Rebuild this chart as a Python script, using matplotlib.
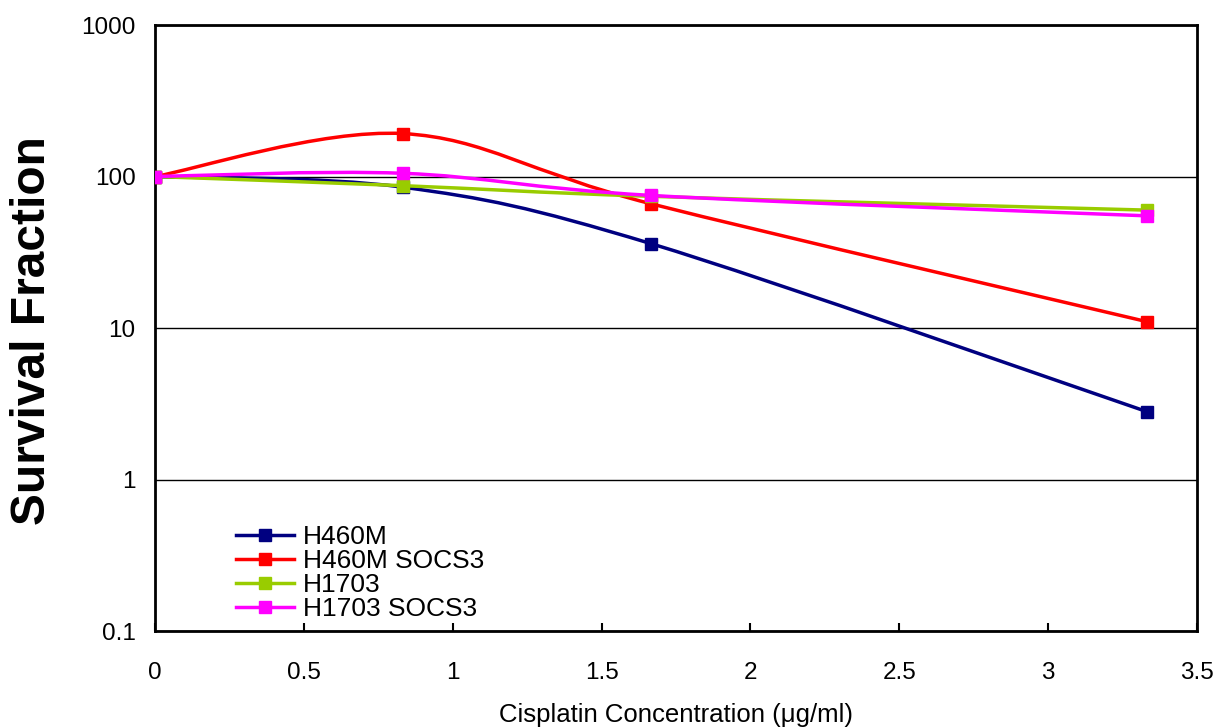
import numpy as np
import matplotlib.pyplot as plt
from matplotlib.path import Path
from matplotlib.patches import PathPatch
from matplotlib.lines import Line2D

plt.rcParams['font.family'] = ['Liberation Sans', 'DejaVu Sans']

# данные
conc = [0, 0.833, 1.667, 3.333]
h460m = [100, 85, 36, 2.8]
h460m_socs3 = [100, 192, 66, 11]
h1703 = [100, 87, 74, 60]
h1703_socs3 = [100, 105, 75, 55]

labels = ['H460M', 'H460M SOCS3', 'H1703', 'H1703 SOCS3']
colors = ['#000080', '#FF0000', '#99CC00', '#FF00FF']
series = [h460m, h460m_socs3, h1703, h1703_socs3]


# сглаженная линия как в Excel (Безье по Катмулл-Рому, в координатах x / log y)
def smooth_path(x, y):
    px = np.asarray(x, float)
    py = np.log10(np.asarray(y, float))
    n = len(px)
    verts = [(px[0], py[0])]
    codes = [Path.MOVETO]
    for i in range(n - 1):
        i0 = max(i - 1, 0)
        i3 = min(i + 2, n - 1)
        c1 = (px[i] + (px[i + 1] - px[i0]) / 6, py[i] + (py[i + 1] - py[i0]) / 6)
        c2 = (px[i + 1] - (px[i3] - px[i]) / 6, py[i + 1] - (py[i3] - py[i]) / 6)
        verts += [c1, c2, (px[i + 1], py[i + 1])]
        codes += [Path.CURVE4] * 3
    verts = [(vx, 10 ** vy) for vx, vy in verts]
    return Path(verts, codes)


fig = plt.figure(figsize=(12.14, 7.27), dpi=100)
ax = fig.add_axes([0.1277, 0.132, 0.8583, 0.8336])

handles = []
for i, (vals, col, lab) in enumerate(zip(series, colors, labels)):
    # кривая рисуется через трансформацию осей, в данных лог-шкала
    patch = PathPatch(smooth_path(conc, vals), facecolor='none', edgecolor=col,
                      lw=2.5, zorder=3 + i, transform=ax.transData)
    ax.add_patch(patch)
    ax.plot(conc, vals, ls='none', marker='s', ms=8, color=col, zorder=3 + i)
    handles.append(Line2D([], [], color=col, lw=2.5, marker='s', ms=8))

ax.set_yscale('log')
ax.set_xlim(0, 3.5)
ax.set_ylim(0.1, 1000)
ax.set_xticks(np.arange(0, 3.51, 0.5))
ax.set_xticklabels(['0', '0.5', '1', '1.5', '2', '2.5', '3', '3.5'])
ax.set_yticks([0.1, 1, 10, 100, 1000])
ax.set_yticklabels(['0.1', '1', '10', '100', '1000'])
ax.minorticks_off()
ax.yaxis.grid(True, color='black', lw=1)
ax.tick_params(axis='x', direction='in', length=6, width=1.5, pad=22, labelsize=17.5)
ax.tick_params(axis='y', direction='in', length=0, pad=14, labelsize=17.5)
for s in ax.spines.values():
    s.set_linewidth(2)

# подписи осей
fig.text(33 / 1214, 1 - 331 / 727, 'Survival Fraction', rotation=90,
         ha='center', va='center', fontsize=34.5, fontweight='bold')
fig.text(676 / 1214, 1 - 715 / 727, 'Cisplatin Concentration (\u03bcg/ml)',
         ha='center', va='center', fontsize=18.5)

ax.legend(handles, labels, loc='lower left', bbox_to_anchor=(0.06, -0.014),
          frameon=False, fontsize=19, handlelength=2.2, labelspacing=0.0,
          handletextpad=0.35, borderpad=0.2)

plt.savefig('out.png', dpi=100)
